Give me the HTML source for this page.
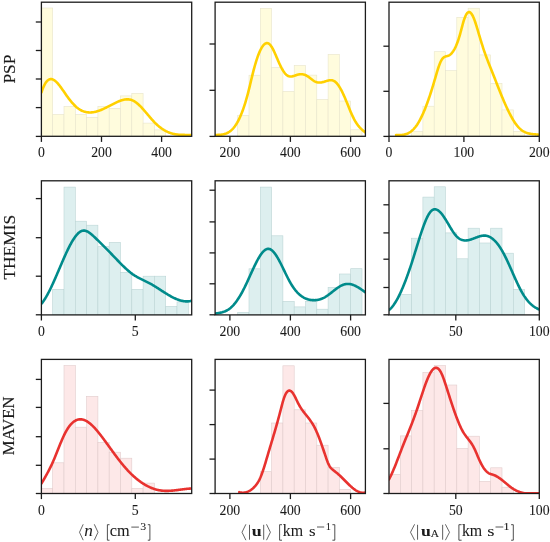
<!DOCTYPE html><html><head><meta charset="utf-8"><style>html,body{margin:0;padding:0;background:#fff;width:550px;height:542px;overflow:hidden}svg{display:block}svg{will-change:transform}</style></head><body>
<svg width="550" height="542" viewBox="0 0 550 542">
<rect width="550" height="542" fill="#fff"/>
<defs><clipPath id="cp00"><rect x="41.40" y="2.20" width="150.30" height="134.10"/></clipPath></defs>
<g clip-path="url(#cp00)">
<rect x="41.40" y="8.00" width="11.30" height="128.30" fill="#fffcdd" stroke="#e8e5cc" stroke-width="0.6"/>
<rect x="52.70" y="114.40" width="11.30" height="21.90" fill="#fffcdd" stroke="#e8e5cc" stroke-width="0.6"/>
<rect x="64.00" y="106.40" width="11.30" height="29.90" fill="#fffcdd" stroke="#e8e5cc" stroke-width="0.6"/>
<rect x="75.30" y="114.40" width="11.30" height="21.90" fill="#fffcdd" stroke="#e8e5cc" stroke-width="0.6"/>
<rect x="86.60" y="117.30" width="11.30" height="19.00" fill="#fffcdd" stroke="#e8e5cc" stroke-width="0.6"/>
<rect x="97.90" y="106.40" width="11.30" height="29.90" fill="#fffcdd" stroke="#e8e5cc" stroke-width="0.6"/>
<rect x="109.20" y="108.30" width="11.30" height="28.00" fill="#fffcdd" stroke="#e8e5cc" stroke-width="0.6"/>
<rect x="120.50" y="95.90" width="11.30" height="40.40" fill="#fffcdd" stroke="#e8e5cc" stroke-width="0.6"/>
<rect x="131.80" y="93.30" width="11.30" height="43.00" fill="#fffcdd" stroke="#e8e5cc" stroke-width="0.6"/>
<rect x="143.10" y="123.10" width="11.30" height="13.20" fill="#fffcdd" stroke="#e8e5cc" stroke-width="0.6"/>
<rect x="154.40" y="129.90" width="11.30" height="6.40" fill="#fffcdd" stroke="#e8e5cc" stroke-width="0.6"/>
<path d="M41.50,92.28 L42.00,90.79 L42.50,89.40 L43.00,88.11 L43.50,86.92 L44.00,85.83 L44.50,84.82 L45.00,83.91 L45.50,83.09 L46.00,82.35 L46.50,81.69 L47.00,81.12 L47.50,80.62 L48.00,80.20 L48.50,79.85 L49.00,79.57 L49.50,79.36 L50.00,79.21 L50.50,79.13 L51.00,79.11 L51.50,79.14 L52.00,79.23 L52.50,79.37 L53.00,79.57 L53.50,79.81 L54.00,80.10 L54.50,80.43 L55.00,80.80 L55.50,81.20 L56.00,81.65 L56.50,82.12 L57.00,82.63 L57.50,83.16 L58.00,83.72 L58.50,84.31 L59.00,84.92 L59.50,85.55 L60.00,86.19 L60.50,86.86 L61.00,87.54 L61.50,88.23 L62.00,88.93 L62.50,89.65 L63.00,90.37 L63.50,91.09 L64.00,91.82 L64.50,92.55 L65.00,93.28 L65.50,94.01 L66.00,94.73 L66.50,95.45 L67.00,96.16 L67.50,96.86 L68.00,97.54 L68.50,98.22 L69.00,98.88 L69.50,99.53 L70.00,100.17 L70.50,100.79 L71.00,101.40 L71.50,102.00 L72.00,102.58 L72.50,103.15 L73.00,103.70 L73.50,104.24 L74.00,104.76 L74.50,105.27 L75.00,105.76 L75.50,106.23 L76.00,106.69 L76.50,107.13 L77.00,107.55 L77.50,107.95 L78.00,108.33 L78.50,108.70 L79.00,109.04 L79.50,109.37 L80.00,109.68 L80.50,109.97 L81.00,110.24 L81.50,110.50 L82.00,110.74 L82.50,110.96 L83.00,111.16 L83.50,111.35 L84.00,111.53 L84.50,111.68 L85.00,111.82 L85.50,111.95 L86.00,112.06 L86.50,112.16 L87.00,112.24 L87.50,112.31 L88.00,112.37 L88.50,112.41 L89.00,112.44 L89.50,112.46 L90.00,112.46 L90.50,112.45 L91.00,112.43 L91.50,112.40 L92.00,112.36 L92.50,112.30 L93.00,112.24 L93.50,112.16 L94.00,112.08 L94.50,111.98 L95.00,111.88 L95.50,111.76 L96.00,111.64 L96.50,111.51 L97.00,111.36 L97.50,111.22 L98.00,111.06 L98.50,110.89 L99.00,110.72 L99.50,110.54 L100.00,110.36 L100.50,110.17 L101.00,109.97 L101.50,109.76 L102.00,109.55 L102.50,109.34 L103.00,109.12 L103.50,108.89 L104.00,108.66 L104.50,108.43 L105.00,108.19 L105.50,107.95 L106.00,107.71 L106.50,107.46 L107.00,107.21 L107.50,106.96 L108.00,106.71 L108.50,106.45 L109.00,106.19 L109.50,105.93 L110.00,105.67 L110.50,105.41 L111.00,105.15 L111.50,104.89 L112.00,104.63 L112.50,104.37 L113.00,104.11 L113.50,103.85 L114.00,103.60 L114.50,103.34 L115.00,103.09 L115.50,102.84 L116.00,102.60 L116.50,102.36 L117.00,102.12 L117.50,101.89 L118.00,101.67 L118.50,101.45 L119.00,101.24 L119.50,101.04 L120.00,100.84 L120.50,100.66 L121.00,100.48 L121.50,100.32 L122.00,100.16 L122.50,100.02 L123.00,99.89 L123.50,99.77 L124.00,99.66 L124.50,99.57 L125.00,99.49 L125.50,99.43 L126.00,99.38 L126.50,99.34 L127.00,99.33 L127.50,99.33 L128.00,99.35 L128.50,99.38 L129.00,99.44 L129.50,99.51 L130.00,99.60 L130.50,99.72 L131.00,99.85 L131.50,100.01 L132.00,100.19 L132.50,100.39 L133.00,100.62 L133.50,100.86 L134.00,101.14 L134.50,101.43 L135.00,101.75 L135.50,102.08 L136.00,102.44 L136.50,102.82 L137.00,103.22 L137.50,103.63 L138.00,104.06 L138.50,104.51 L139.00,104.97 L139.50,105.44 L140.00,105.93 L140.50,106.44 L141.00,106.95 L141.50,107.48 L142.00,108.01 L142.50,108.56 L143.00,109.11 L143.50,109.67 L144.00,110.24 L144.50,110.81 L145.00,111.39 L145.50,111.98 L146.00,112.57 L146.50,113.16 L147.00,113.75 L147.50,114.34 L148.00,114.94 L148.50,115.53 L149.00,116.12 L149.50,116.71 L150.00,117.30 L150.50,117.88 L151.00,118.46 L151.50,119.03 L152.00,119.60 L152.50,120.15 L153.00,120.71 L153.50,121.25 L154.00,121.78 L154.50,122.30 L155.00,122.81 L155.50,123.31 L156.00,123.79 L156.50,124.27 L157.00,124.73 L157.50,125.18 L158.00,125.62 L158.50,126.05 L159.00,126.46 L159.50,126.87 L160.00,127.26 L160.50,127.64 L161.00,128.01 L161.50,128.37 L162.00,128.72 L162.50,129.05 L163.00,129.38 L163.50,129.69 L164.00,130.00 L164.50,130.29 L165.00,130.58 L165.50,130.85 L166.00,131.12 L166.50,131.37 L167.00,131.61 L167.50,131.85 L168.00,132.07 L168.50,132.28 L169.00,132.49 L169.50,132.68 L170.00,132.87 L170.50,133.04 L171.00,133.21 L171.50,133.37 L172.00,133.52 L172.50,133.66 L173.00,133.79 L173.50,133.91 L174.00,134.02 L174.50,134.12 L175.00,134.22 L175.50,134.31 L176.00,134.39 L176.50,134.46 L177.00,134.52 L177.50,134.58 L178.00,134.63 L178.50,134.68 L179.00,134.72 L179.50,134.75 L180.00,134.79 L180.50,134.81 L181.00,134.83 L181.50,134.85 L182.00,134.87 L182.50,134.88 L183.00,134.89 L183.50,134.90 L184.00,134.91 L184.50,134.92 L185.00,134.93 L185.50,134.93 L186.00,134.94 L186.50,134.95 L187.00,134.96 L187.50,134.97 L188.00,134.98 L188.50,134.99 L189.00,135.01 L189.50,135.03 L190.00,135.06 L190.50,135.09 L191.00,135.12 L191.50,135.16 L191.60,135.16" fill="none" stroke="#ffd000" stroke-width="2.60" stroke-linecap="round" stroke-linejoin="round"/>
</g>
<rect x="41.40" y="2.20" width="150.30" height="134.10" fill="none" stroke="#1c1c1c" stroke-width="1.30"/>
<line x1="35.80" y1="22.00" x2="41.40" y2="22.00" stroke="#1c1c1c" stroke-width="1.30"/>
<line x1="35.80" y1="50.50" x2="41.40" y2="50.50" stroke="#1c1c1c" stroke-width="1.30"/>
<line x1="35.80" y1="79.00" x2="41.40" y2="79.00" stroke="#1c1c1c" stroke-width="1.30"/>
<line x1="35.80" y1="107.60" x2="41.40" y2="107.60" stroke="#1c1c1c" stroke-width="1.30"/>
<line x1="35.80" y1="136.40" x2="41.40" y2="136.40" stroke="#1c1c1c" stroke-width="1.30"/>
<line x1="41.40" y1="136.30" x2="41.40" y2="141.90" stroke="#1c1c1c" stroke-width="1.30"/>
<text transform="translate(41.40,157.25) scale(0.982,1)" text-anchor="middle" font-family="Liberation Serif" font-size="14.00" fill="#1a1a1a" stroke="#1a1a1a" stroke-width="0.08">0</text>
<line x1="101.50" y1="136.30" x2="101.50" y2="141.90" stroke="#1c1c1c" stroke-width="1.30"/>
<text transform="translate(101.50,157.25) scale(0.982,1)" text-anchor="middle" font-family="Liberation Serif" font-size="14.00" fill="#1a1a1a" stroke="#1a1a1a" stroke-width="0.08">200</text>
<line x1="161.60" y1="136.30" x2="161.60" y2="141.90" stroke="#1c1c1c" stroke-width="1.30"/>
<text transform="translate(161.60,157.25) scale(0.982,1)" text-anchor="middle" font-family="Liberation Serif" font-size="14.00" fill="#1a1a1a" stroke="#1a1a1a" stroke-width="0.08">400</text>
<defs><clipPath id="cp10"><rect x="215.10" y="2.20" width="150.30" height="134.10"/></clipPath></defs>
<g clip-path="url(#cp10)">
<rect x="237.70" y="115.40" width="11.30" height="20.90" fill="#fffcdd" stroke="#e8e5cc" stroke-width="0.6"/>
<rect x="249.00" y="75.20" width="11.30" height="61.10" fill="#fffcdd" stroke="#e8e5cc" stroke-width="0.6"/>
<rect x="260.30" y="8.40" width="11.30" height="127.90" fill="#fffcdd" stroke="#e8e5cc" stroke-width="0.6"/>
<rect x="271.60" y="67.70" width="11.30" height="68.60" fill="#fffcdd" stroke="#e8e5cc" stroke-width="0.6"/>
<rect x="282.90" y="91.40" width="11.30" height="44.90" fill="#fffcdd" stroke="#e8e5cc" stroke-width="0.6"/>
<rect x="294.20" y="65.50" width="11.30" height="70.80" fill="#fffcdd" stroke="#e8e5cc" stroke-width="0.6"/>
<rect x="305.50" y="75.10" width="11.30" height="61.20" fill="#fffcdd" stroke="#e8e5cc" stroke-width="0.6"/>
<rect x="316.80" y="99.40" width="11.30" height="36.90" fill="#fffcdd" stroke="#e8e5cc" stroke-width="0.6"/>
<rect x="328.10" y="54.40" width="11.30" height="81.90" fill="#fffcdd" stroke="#e8e5cc" stroke-width="0.6"/>
<rect x="339.40" y="101.00" width="11.30" height="35.30" fill="#fffcdd" stroke="#e8e5cc" stroke-width="0.6"/>
<rect x="350.70" y="129.80" width="11.30" height="6.50" fill="#fffcdd" stroke="#e8e5cc" stroke-width="0.6"/>
<path d="M215.20,135.01 L215.70,134.99 L216.20,134.97 L216.70,134.96 L217.20,134.94 L217.70,134.92 L218.20,134.90 L218.70,134.88 L219.20,134.85 L219.70,134.82 L220.20,134.78 L220.70,134.73 L221.20,134.68 L221.70,134.61 L222.20,134.54 L222.70,134.45 L223.20,134.36 L223.70,134.24 L224.20,134.12 L224.70,133.98 L225.20,133.82 L225.70,133.65 L226.20,133.46 L226.70,133.25 L227.20,133.01 L227.70,132.76 L228.20,132.49 L228.70,132.19 L229.20,131.87 L229.70,131.52 L230.20,131.15 L230.70,130.75 L231.20,130.32 L231.70,129.87 L232.20,129.38 L232.70,128.86 L233.20,128.31 L233.70,127.73 L234.20,127.11 L234.70,126.46 L235.20,125.77 L235.70,125.05 L236.20,124.29 L236.70,123.49 L237.20,122.65 L237.70,121.76 L238.20,120.84 L238.70,119.87 L239.20,118.86 L239.70,117.81 L240.20,116.71 L240.70,115.56 L241.20,114.37 L241.70,113.12 L242.20,111.83 L242.70,110.50 L243.20,109.11 L243.70,107.67 L244.20,106.19 L244.70,104.65 L245.20,103.06 L245.70,101.42 L246.20,99.72 L246.70,97.97 L247.20,96.17 L247.70,94.31 L248.20,92.40 L248.70,90.43 L249.20,88.41 L249.70,86.35 L250.20,84.27 L250.70,82.16 L251.20,80.06 L251.70,77.97 L252.20,75.90 L252.70,73.86 L253.20,71.88 L253.70,69.95 L254.20,68.07 L254.70,66.26 L255.20,64.51 L255.70,62.82 L256.20,61.19 L256.70,59.63 L257.20,58.13 L257.70,56.69 L258.20,55.32 L258.70,54.02 L259.20,52.79 L259.70,51.62 L260.20,50.53 L260.70,49.51 L261.20,48.56 L261.70,47.68 L262.20,46.88 L262.70,46.15 L263.20,45.50 L263.70,44.92 L264.20,44.42 L264.70,44.00 L265.20,43.67 L265.70,43.41 L266.20,43.23 L266.70,43.14 L267.20,43.13 L267.70,43.20 L268.20,43.36 L268.70,43.61 L269.20,43.94 L269.70,44.37 L270.20,44.88 L270.70,45.48 L271.20,46.17 L271.70,46.94 L272.20,47.78 L272.70,48.69 L273.20,49.65 L273.70,50.67 L274.20,51.73 L274.70,52.82 L275.20,53.95 L275.70,55.10 L276.20,56.26 L276.70,57.43 L277.20,58.61 L277.70,59.77 L278.20,60.93 L278.70,62.06 L279.20,63.17 L279.70,64.26 L280.20,65.31 L280.70,66.33 L281.20,67.31 L281.70,68.26 L282.20,69.16 L282.70,70.03 L283.20,70.84 L283.70,71.61 L284.20,72.33 L284.70,73.00 L285.20,73.61 L285.70,74.16 L286.20,74.65 L286.70,75.08 L287.20,75.45 L287.70,75.75 L288.20,76.00 L288.70,76.19 L289.20,76.34 L289.70,76.44 L290.20,76.49 L290.70,76.51 L291.20,76.49 L291.70,76.44 L292.20,76.36 L292.70,76.26 L293.20,76.13 L293.70,75.99 L294.20,75.84 L294.70,75.67 L295.20,75.50 L295.70,75.33 L296.20,75.15 L296.70,74.99 L297.20,74.83 L297.70,74.68 L298.20,74.54 L298.70,74.43 L299.20,74.34 L299.70,74.27 L300.20,74.22 L300.70,74.19 L301.20,74.19 L301.70,74.21 L302.20,74.26 L302.70,74.32 L303.20,74.42 L303.70,74.53 L304.20,74.67 L304.70,74.84 L305.20,75.03 L305.70,75.24 L306.20,75.48 L306.70,75.75 L307.20,76.04 L307.70,76.35 L308.20,76.69 L308.70,77.04 L309.20,77.40 L309.70,77.78 L310.20,78.16 L310.70,78.54 L311.20,78.93 L311.70,79.31 L312.20,79.68 L312.70,80.05 L313.20,80.40 L313.70,80.73 L314.20,81.04 L314.70,81.33 L315.20,81.59 L315.70,81.83 L316.20,82.03 L316.70,82.19 L317.20,82.32 L317.70,82.43 L318.20,82.50 L318.70,82.55 L319.20,82.57 L319.70,82.57 L320.20,82.54 L320.70,82.50 L321.20,82.43 L321.70,82.35 L322.20,82.25 L322.70,82.14 L323.20,82.02 L323.70,81.88 L324.20,81.74 L324.70,81.59 L325.20,81.43 L325.70,81.28 L326.20,81.12 L326.70,80.96 L327.20,80.81 L327.70,80.67 L328.20,80.54 L328.70,80.42 L329.20,80.33 L329.70,80.25 L330.20,80.21 L330.70,80.19 L331.20,80.20 L331.70,80.24 L332.20,80.32 L332.70,80.45 L333.20,80.62 L333.70,80.83 L334.20,81.09 L334.70,81.41 L335.20,81.78 L335.70,82.21 L336.20,82.69 L336.70,83.21 L337.20,83.79 L337.70,84.41 L338.20,85.08 L338.70,85.80 L339.20,86.56 L339.70,87.36 L340.20,88.20 L340.70,89.07 L341.20,89.99 L341.70,90.94 L342.20,91.93 L342.70,92.95 L343.20,94.01 L343.70,95.09 L344.20,96.20 L344.70,97.34 L345.20,98.51 L345.70,99.70 L346.20,100.90 L346.70,102.12 L347.20,103.34 L347.70,104.58 L348.20,105.81 L348.70,107.04 L349.20,108.27 L349.70,109.49 L350.20,110.69 L350.70,111.88 L351.20,113.05 L351.70,114.19 L352.20,115.30 L352.70,116.38 L353.20,117.42 L353.70,118.43 L354.20,119.39 L354.70,120.30 L355.20,121.18 L355.70,122.00 L356.20,122.79 L356.70,123.55 L357.20,124.26 L357.70,124.94 L358.20,125.59 L358.70,126.21 L359.20,126.80 L359.70,127.36 L360.20,127.90 L360.70,128.42 L361.20,128.91 L361.70,129.38 L362.20,129.84 L362.70,130.28 L363.20,130.71 L363.70,131.12 L364.20,131.53 L364.70,131.92 L365.20,132.31 L365.30,132.39" fill="none" stroke="#ffd000" stroke-width="2.60" stroke-linecap="round" stroke-linejoin="round"/>
</g>
<rect x="215.10" y="2.20" width="150.30" height="134.10" fill="none" stroke="#1c1c1c" stroke-width="1.30"/>
<line x1="209.50" y1="44.00" x2="215.10" y2="44.00" stroke="#1c1c1c" stroke-width="1.30"/>
<line x1="209.50" y1="90.30" x2="215.10" y2="90.30" stroke="#1c1c1c" stroke-width="1.30"/>
<line x1="209.50" y1="136.40" x2="215.10" y2="136.40" stroke="#1c1c1c" stroke-width="1.30"/>
<line x1="229.90" y1="136.30" x2="229.90" y2="141.90" stroke="#1c1c1c" stroke-width="1.30"/>
<text transform="translate(229.90,157.25) scale(0.982,1)" text-anchor="middle" font-family="Liberation Serif" font-size="14.00" fill="#1a1a1a" stroke="#1a1a1a" stroke-width="0.08">200</text>
<line x1="290.40" y1="136.30" x2="290.40" y2="141.90" stroke="#1c1c1c" stroke-width="1.30"/>
<text transform="translate(290.40,157.25) scale(0.982,1)" text-anchor="middle" font-family="Liberation Serif" font-size="14.00" fill="#1a1a1a" stroke="#1a1a1a" stroke-width="0.08">400</text>
<line x1="350.60" y1="136.30" x2="350.60" y2="141.90" stroke="#1c1c1c" stroke-width="1.30"/>
<text transform="translate(350.60,157.25) scale(0.982,1)" text-anchor="middle" font-family="Liberation Serif" font-size="14.00" fill="#1a1a1a" stroke="#1a1a1a" stroke-width="0.08">600</text>
<defs><clipPath id="cp20"><rect x="389.00" y="2.20" width="150.30" height="134.10"/></clipPath></defs>
<g clip-path="url(#cp20)">
<rect x="411.60" y="131.60" width="11.30" height="4.70" fill="#fffcdd" stroke="#e8e5cc" stroke-width="0.6"/>
<rect x="422.90" y="106.20" width="11.30" height="30.10" fill="#fffcdd" stroke="#e8e5cc" stroke-width="0.6"/>
<rect x="434.20" y="51.70" width="11.30" height="84.60" fill="#fffcdd" stroke="#e8e5cc" stroke-width="0.6"/>
<rect x="445.50" y="70.60" width="11.30" height="65.70" fill="#fffcdd" stroke="#e8e5cc" stroke-width="0.6"/>
<rect x="456.80" y="17.30" width="11.30" height="119.00" fill="#fffcdd" stroke="#e8e5cc" stroke-width="0.6"/>
<rect x="468.10" y="8.20" width="11.30" height="128.10" fill="#fffcdd" stroke="#e8e5cc" stroke-width="0.6"/>
<rect x="479.40" y="54.90" width="11.30" height="81.40" fill="#fffcdd" stroke="#e8e5cc" stroke-width="0.6"/>
<rect x="490.70" y="83.30" width="11.30" height="53.00" fill="#fffcdd" stroke="#e8e5cc" stroke-width="0.6"/>
<rect x="502.00" y="109.90" width="11.30" height="26.40" fill="#fffcdd" stroke="#e8e5cc" stroke-width="0.6"/>
<rect x="513.30" y="131.40" width="11.30" height="4.90" fill="#fffcdd" stroke="#e8e5cc" stroke-width="0.6"/>
<path d="M396.10,134.94 L396.60,134.97 L397.10,135.00 L397.60,135.03 L398.10,135.05 L398.60,135.07 L399.10,135.07 L399.60,135.08 L400.10,135.07 L400.60,135.05 L401.10,135.03 L401.60,134.99 L402.10,134.94 L402.60,134.88 L403.10,134.81 L403.60,134.73 L404.10,134.63 L404.60,134.51 L405.10,134.38 L405.60,134.24 L406.10,134.07 L406.60,133.89 L407.10,133.69 L407.60,133.48 L408.10,133.24 L408.60,132.98 L409.10,132.70 L409.60,132.40 L410.10,132.07 L410.60,131.72 L411.10,131.35 L411.60,130.95 L412.10,130.52 L412.60,130.07 L413.10,129.60 L413.60,129.09 L414.10,128.55 L414.60,127.99 L415.10,127.40 L415.60,126.77 L416.10,126.11 L416.60,125.42 L417.10,124.70 L417.60,123.94 L418.10,123.15 L418.60,122.33 L419.10,121.47 L419.60,120.58 L420.10,119.65 L420.60,118.69 L421.10,117.70 L421.60,116.68 L422.10,115.62 L422.60,114.54 L423.10,113.42 L423.60,112.27 L424.10,111.10 L424.60,109.89 L425.10,108.66 L425.60,107.39 L426.10,106.10 L426.60,104.78 L427.10,103.43 L427.60,102.06 L428.10,100.66 L428.60,99.23 L429.10,97.78 L429.60,96.31 L430.10,94.80 L430.60,93.28 L431.10,91.73 L431.60,90.15 L432.10,88.56 L432.60,86.94 L433.10,85.29 L433.60,83.63 L434.10,81.94 L434.60,80.24 L435.10,78.52 L435.60,76.79 L436.10,75.08 L436.60,73.38 L437.10,71.71 L437.60,70.09 L438.10,68.51 L438.60,67.00 L439.10,65.56 L439.60,64.21 L440.10,62.95 L440.60,61.80 L441.10,60.76 L441.60,59.86 L442.10,59.09 L442.60,58.45 L443.10,57.92 L443.60,57.49 L444.10,57.14 L444.60,56.86 L445.10,56.65 L445.60,56.47 L446.10,56.33 L446.60,56.20 L447.10,56.08 L447.60,55.94 L448.10,55.78 L448.60,55.58 L449.10,55.33 L449.60,55.04 L450.10,54.68 L450.60,54.28 L451.10,53.81 L451.60,53.29 L452.10,52.71 L452.60,52.07 L453.10,51.37 L453.60,50.60 L454.10,49.77 L454.60,48.87 L455.10,47.90 L455.60,46.86 L456.10,45.75 L456.60,44.56 L457.10,43.30 L457.60,41.97 L458.10,40.55 L458.60,39.06 L459.10,37.48 L459.60,35.82 L460.10,34.08 L460.60,32.25 L461.10,30.38 L461.60,28.48 L462.10,26.59 L462.60,24.73 L463.10,22.94 L463.60,21.23 L464.10,19.65 L464.60,18.21 L465.10,16.91 L465.60,15.77 L466.10,14.78 L466.60,13.94 L467.10,13.25 L467.60,12.72 L468.10,12.34 L468.60,12.12 L469.10,12.05 L469.60,12.14 L470.10,12.39 L470.60,12.78 L471.10,13.30 L471.60,13.96 L472.10,14.75 L472.60,15.66 L473.10,16.68 L473.60,17.81 L474.10,19.04 L474.60,20.37 L475.10,21.78 L475.60,23.26 L476.10,24.81 L476.60,26.41 L477.10,28.05 L477.60,29.72 L478.10,31.41 L478.60,33.10 L479.10,34.80 L479.60,36.49 L480.10,38.16 L480.60,39.81 L481.10,41.45 L481.60,43.06 L482.10,44.66 L482.60,46.23 L483.10,47.78 L483.60,49.29 L484.10,50.79 L484.60,52.25 L485.10,53.67 L485.60,55.07 L486.10,56.44 L486.60,57.78 L487.10,59.10 L487.60,60.39 L488.10,61.68 L488.60,62.94 L489.10,64.20 L489.60,65.45 L490.10,66.70 L490.60,67.94 L491.10,69.18 L491.60,70.43 L492.10,71.69 L492.60,72.95 L493.10,74.22 L493.60,75.49 L494.10,76.77 L494.60,78.04 L495.10,79.32 L495.60,80.60 L496.10,81.88 L496.60,83.16 L497.10,84.44 L497.60,85.71 L498.10,86.98 L498.60,88.25 L499.10,89.51 L499.60,90.76 L500.10,92.01 L500.60,93.25 L501.10,94.48 L501.60,95.70 L502.10,96.91 L502.60,98.11 L503.10,99.30 L503.60,100.48 L504.10,101.64 L504.60,102.80 L505.10,103.94 L505.60,105.06 L506.10,106.17 L506.60,107.27 L507.10,108.35 L507.60,109.41 L508.10,110.45 L508.60,111.48 L509.10,112.49 L509.60,113.48 L510.10,114.45 L510.60,115.40 L511.10,116.33 L511.60,117.24 L512.10,118.13 L512.60,118.99 L513.10,119.84 L513.60,120.65 L514.10,121.45 L514.60,122.22 L515.10,122.96 L515.60,123.68 L516.10,124.37 L516.60,125.03 L517.10,125.67 L517.60,126.27 L518.10,126.85 L518.60,127.40 L519.10,127.92 L519.60,128.41 L520.10,128.87 L520.60,129.31 L521.10,129.72 L521.60,130.11 L522.10,130.47 L522.60,130.81 L523.10,131.13 L523.60,131.43 L524.10,131.71 L524.60,131.96 L525.10,132.20 L525.60,132.42 L526.10,132.62 L526.60,132.81 L527.10,132.98 L527.60,133.14 L528.10,133.28 L528.60,133.41 L529.10,133.53 L529.60,133.64 L530.10,133.74 L530.60,133.83 L531.10,133.91 L531.60,133.98 L532.10,134.05 L532.60,134.11 L533.10,134.17 L533.60,134.22 L534.10,134.27 L534.60,134.31 L535.10,134.36 L535.60,134.40 L536.10,134.44 L536.60,134.49 L537.10,134.54 L537.60,134.59 L538.10,134.64 L538.60,134.70 L539.10,134.76 L539.30,134.79" fill="none" stroke="#ffd000" stroke-width="2.60" stroke-linecap="round" stroke-linejoin="round"/>
</g>
<rect x="389.00" y="2.20" width="150.30" height="134.10" fill="none" stroke="#1c1c1c" stroke-width="1.30"/>
<line x1="383.40" y1="46.20" x2="389.00" y2="46.20" stroke="#1c1c1c" stroke-width="1.30"/>
<line x1="383.40" y1="91.30" x2="389.00" y2="91.30" stroke="#1c1c1c" stroke-width="1.30"/>
<line x1="383.40" y1="136.40" x2="389.00" y2="136.40" stroke="#1c1c1c" stroke-width="1.30"/>
<line x1="389.00" y1="136.30" x2="389.00" y2="141.90" stroke="#1c1c1c" stroke-width="1.30"/>
<text transform="translate(389.00,157.25) scale(0.982,1)" text-anchor="middle" font-family="Liberation Serif" font-size="14.00" fill="#1a1a1a" stroke="#1a1a1a" stroke-width="0.08">0</text>
<line x1="463.90" y1="136.30" x2="463.90" y2="141.90" stroke="#1c1c1c" stroke-width="1.30"/>
<text transform="translate(463.90,157.25) scale(0.982,1)" text-anchor="middle" font-family="Liberation Serif" font-size="14.00" fill="#1a1a1a" stroke="#1a1a1a" stroke-width="0.08">100</text>
<line x1="539.30" y1="136.30" x2="539.30" y2="141.90" stroke="#1c1c1c" stroke-width="1.30"/>
<text transform="translate(539.30,157.25) scale(0.982,1)" text-anchor="middle" font-family="Liberation Serif" font-size="14.00" fill="#1a1a1a" stroke="#1a1a1a" stroke-width="0.08">200</text>
<text transform="translate(14.54,83.60) rotate(-90)" x="0" y="0" textLength="28.997" lengthAdjust="spacingAndGlyphs" font-family="Liberation Serif" font-size="16.22" fill="#1a1a1a" stroke="#1a1a1a" stroke-width="0.15">PSP</text>
<defs><clipPath id="cp01"><rect x="41.40" y="180.80" width="150.30" height="134.10"/></clipPath></defs>
<g clip-path="url(#cp01)">
<rect x="52.70" y="289.40" width="11.30" height="25.50" fill="#ddefef" stroke="#bcd5d5" stroke-width="0.6"/>
<rect x="64.00" y="187.10" width="11.30" height="127.80" fill="#ddefef" stroke="#bcd5d5" stroke-width="0.6"/>
<rect x="75.30" y="221.20" width="11.30" height="93.70" fill="#ddefef" stroke="#bcd5d5" stroke-width="0.6"/>
<rect x="86.60" y="225.20" width="11.30" height="89.70" fill="#ddefef" stroke="#bcd5d5" stroke-width="0.6"/>
<rect x="97.90" y="246.70" width="11.30" height="68.20" fill="#ddefef" stroke="#bcd5d5" stroke-width="0.6"/>
<rect x="109.20" y="242.40" width="11.30" height="72.50" fill="#ddefef" stroke="#bcd5d5" stroke-width="0.6"/>
<rect x="120.50" y="272.30" width="11.30" height="42.60" fill="#ddefef" stroke="#bcd5d5" stroke-width="0.6"/>
<rect x="131.80" y="289.30" width="11.30" height="25.60" fill="#ddefef" stroke="#bcd5d5" stroke-width="0.6"/>
<rect x="143.10" y="276.20" width="11.30" height="38.70" fill="#ddefef" stroke="#bcd5d5" stroke-width="0.6"/>
<rect x="154.40" y="276.20" width="11.30" height="38.70" fill="#ddefef" stroke="#bcd5d5" stroke-width="0.6"/>
<rect x="165.70" y="306.40" width="11.30" height="8.50" fill="#ddefef" stroke="#bcd5d5" stroke-width="0.6"/>
<rect x="177.00" y="301.90" width="11.30" height="13.00" fill="#ddefef" stroke="#bcd5d5" stroke-width="0.6"/>
<path d="M41.70,303.46 L42.20,302.84 L42.70,302.19 L43.20,301.51 L43.70,300.80 L44.20,300.06 L44.70,299.29 L45.20,298.50 L45.70,297.68 L46.20,296.83 L46.70,295.96 L47.20,295.07 L47.70,294.15 L48.20,293.22 L48.70,292.26 L49.20,291.28 L49.70,290.29 L50.20,289.27 L50.70,288.24 L51.20,287.20 L51.70,286.14 L52.20,285.06 L52.70,283.97 L53.20,282.87 L53.70,281.76 L54.20,280.64 L54.70,279.51 L55.20,278.37 L55.70,277.22 L56.20,276.07 L56.70,274.91 L57.20,273.75 L57.70,272.58 L58.20,271.41 L58.70,270.24 L59.20,269.07 L59.70,267.89 L60.20,266.72 L60.70,265.55 L61.20,264.39 L61.70,263.22 L62.20,262.06 L62.70,260.91 L63.20,259.77 L63.70,258.63 L64.20,257.50 L64.70,256.38 L65.20,255.27 L65.70,254.17 L66.20,253.08 L66.70,252.00 L67.20,250.95 L67.70,249.90 L68.20,248.87 L68.70,247.86 L69.20,246.87 L69.70,245.90 L70.20,244.94 L70.70,244.01 L71.20,243.10 L71.70,242.22 L72.20,241.36 L72.70,240.52 L73.20,239.71 L73.70,238.93 L74.20,238.18 L74.70,237.45 L75.20,236.76 L75.70,236.10 L76.20,235.47 L76.70,234.87 L77.20,234.31 L77.70,233.78 L78.20,233.29 L78.70,232.84 L79.20,232.42 L79.70,232.05 L80.20,231.72 L80.70,231.42 L81.20,231.17 L81.70,230.97 L82.20,230.81 L82.70,230.69 L83.20,230.62 L83.70,230.59 L84.20,230.60 L84.70,230.65 L85.20,230.74 L85.70,230.87 L86.20,231.03 L86.70,231.22 L87.20,231.45 L87.70,231.70 L88.20,231.98 L88.70,232.29 L89.20,232.62 L89.70,232.97 L90.20,233.34 L90.70,233.73 L91.20,234.14 L91.70,234.56 L92.20,234.99 L92.70,235.44 L93.20,235.90 L93.70,236.36 L94.20,236.83 L94.70,237.30 L95.20,237.78 L95.70,238.26 L96.20,238.74 L96.70,239.22 L97.20,239.70 L97.70,240.18 L98.20,240.67 L98.70,241.16 L99.20,241.64 L99.70,242.13 L100.20,242.62 L100.70,243.12 L101.20,243.61 L101.70,244.10 L102.20,244.60 L102.70,245.10 L103.20,245.60 L103.70,246.09 L104.20,246.60 L104.70,247.10 L105.20,247.60 L105.70,248.11 L106.20,248.61 L106.70,249.12 L107.20,249.63 L107.70,250.13 L108.20,250.64 L108.70,251.16 L109.20,251.67 L109.70,252.18 L110.20,252.70 L110.70,253.21 L111.20,253.73 L111.70,254.24 L112.20,254.76 L112.70,255.28 L113.20,255.80 L113.70,256.32 L114.20,256.85 L114.70,257.37 L115.20,257.89 L115.70,258.41 L116.20,258.94 L116.70,259.46 L117.20,259.98 L117.70,260.50 L118.20,261.02 L118.70,261.53 L119.20,262.05 L119.70,262.56 L120.20,263.07 L120.70,263.58 L121.20,264.08 L121.70,264.58 L122.20,265.08 L122.70,265.57 L123.20,266.06 L123.70,266.55 L124.20,267.03 L124.70,267.50 L125.20,267.97 L125.70,268.44 L126.20,268.90 L126.70,269.35 L127.20,269.80 L127.70,270.24 L128.20,270.67 L128.70,271.09 L129.20,271.51 L129.70,271.92 L130.20,272.32 L130.70,272.72 L131.20,273.10 L131.70,273.48 L132.20,273.85 L132.70,274.21 L133.20,274.55 L133.70,274.89 L134.20,275.22 L134.70,275.54 L135.20,275.86 L135.70,276.16 L136.20,276.46 L136.70,276.75 L137.20,277.04 L137.70,277.32 L138.20,277.59 L138.70,277.86 L139.20,278.13 L139.70,278.39 L140.20,278.64 L140.70,278.89 L141.20,279.14 L141.70,279.39 L142.20,279.64 L142.70,279.88 L143.20,280.12 L143.70,280.36 L144.20,280.60 L144.70,280.84 L145.20,281.09 L145.70,281.33 L146.20,281.57 L146.70,281.82 L147.20,282.06 L147.70,282.31 L148.20,282.57 L148.70,282.82 L149.20,283.08 L149.70,283.35 L150.20,283.62 L150.70,283.89 L151.20,284.17 L151.70,284.46 L152.20,284.74 L152.70,285.04 L153.20,285.33 L153.70,285.63 L154.20,285.93 L154.70,286.24 L155.20,286.55 L155.70,286.86 L156.20,287.17 L156.70,287.49 L157.20,287.81 L157.70,288.13 L158.20,288.45 L158.70,288.77 L159.20,289.09 L159.70,289.42 L160.20,289.74 L160.70,290.07 L161.20,290.39 L161.70,290.72 L162.20,291.04 L162.70,291.36 L163.20,291.69 L163.70,292.01 L164.20,292.33 L164.70,292.64 L165.20,292.96 L165.70,293.28 L166.20,293.59 L166.70,293.90 L167.20,294.20 L167.70,294.51 L168.20,294.81 L168.70,295.10 L169.20,295.39 L169.70,295.68 L170.20,295.97 L170.70,296.25 L171.20,296.52 L171.70,296.79 L172.20,297.06 L172.70,297.32 L173.20,297.57 L173.70,297.82 L174.20,298.06 L174.70,298.29 L175.20,298.52 L175.70,298.74 L176.20,298.96 L176.70,299.17 L177.20,299.37 L177.70,299.56 L178.20,299.74 L178.70,299.92 L179.20,300.08 L179.70,300.24 L180.20,300.39 L180.70,300.53 L181.20,300.66 L181.70,300.78 L182.20,300.89 L182.70,300.99 L183.20,301.08 L183.70,301.16 L184.20,301.22 L184.70,301.28 L185.20,301.33 L185.70,301.36 L186.20,301.38 L186.70,301.39 L187.20,301.39 L187.70,301.37 L188.20,301.34 L188.70,301.30 L189.20,301.25 L189.70,301.18 L190.20,301.10 L190.70,301.00 L191.20,300.89 L191.60,300.79" fill="none" stroke="#008b8b" stroke-width="2.60" stroke-linecap="round" stroke-linejoin="round"/>
</g>
<rect x="41.40" y="180.80" width="150.30" height="134.10" fill="none" stroke="#1c1c1c" stroke-width="1.30"/>
<line x1="35.80" y1="198.60" x2="41.40" y2="198.60" stroke="#1c1c1c" stroke-width="1.30"/>
<line x1="35.80" y1="237.70" x2="41.40" y2="237.70" stroke="#1c1c1c" stroke-width="1.30"/>
<line x1="35.80" y1="276.20" x2="41.40" y2="276.20" stroke="#1c1c1c" stroke-width="1.30"/>
<line x1="35.80" y1="314.80" x2="41.40" y2="314.80" stroke="#1c1c1c" stroke-width="1.30"/>
<line x1="41.40" y1="314.90" x2="41.40" y2="320.50" stroke="#1c1c1c" stroke-width="1.30"/>
<text transform="translate(41.40,336.25) scale(0.982,1)" text-anchor="middle" font-family="Liberation Serif" font-size="14.00" fill="#1a1a1a" stroke="#1a1a1a" stroke-width="0.08">0</text>
<line x1="135.30" y1="314.90" x2="135.30" y2="320.50" stroke="#1c1c1c" stroke-width="1.30"/>
<text transform="translate(135.30,336.25) scale(0.982,1)" text-anchor="middle" font-family="Liberation Serif" font-size="14.00" fill="#1a1a1a" stroke="#1a1a1a" stroke-width="0.08">5</text>
<defs><clipPath id="cp11"><rect x="215.10" y="180.80" width="150.30" height="134.10"/></clipPath></defs>
<g clip-path="url(#cp11)">
<rect x="237.70" y="312.30" width="11.30" height="2.60" fill="#ddefef" stroke="#bcd5d5" stroke-width="0.6"/>
<rect x="249.00" y="268.80" width="11.30" height="46.10" fill="#ddefef" stroke="#bcd5d5" stroke-width="0.6"/>
<rect x="260.30" y="187.10" width="11.30" height="127.80" fill="#ddefef" stroke="#bcd5d5" stroke-width="0.6"/>
<rect x="271.60" y="235.80" width="11.30" height="79.10" fill="#ddefef" stroke="#bcd5d5" stroke-width="0.6"/>
<rect x="282.90" y="301.40" width="11.30" height="13.50" fill="#ddefef" stroke="#bcd5d5" stroke-width="0.6"/>
<rect x="294.20" y="306.90" width="11.30" height="8.00" fill="#ddefef" stroke="#bcd5d5" stroke-width="0.6"/>
<rect x="305.50" y="301.40" width="11.30" height="13.50" fill="#ddefef" stroke="#bcd5d5" stroke-width="0.6"/>
<rect x="316.80" y="309.20" width="11.30" height="5.70" fill="#ddefef" stroke="#bcd5d5" stroke-width="0.6"/>
<rect x="328.10" y="287.30" width="11.30" height="27.60" fill="#ddefef" stroke="#bcd5d5" stroke-width="0.6"/>
<rect x="339.40" y="274.00" width="11.30" height="40.90" fill="#ddefef" stroke="#bcd5d5" stroke-width="0.6"/>
<rect x="350.70" y="268.70" width="11.30" height="46.20" fill="#ddefef" stroke="#bcd5d5" stroke-width="0.6"/>
<path d="M215.20,313.60 L215.70,313.52 L216.20,313.44 L216.70,313.36 L217.20,313.27 L217.70,313.19 L218.20,313.11 L218.70,313.02 L219.20,312.93 L219.70,312.83 L220.20,312.73 L220.70,312.62 L221.20,312.51 L221.70,312.39 L222.20,312.26 L222.70,312.11 L223.20,311.96 L223.70,311.80 L224.20,311.62 L224.70,311.43 L225.20,311.23 L225.70,311.01 L226.20,310.77 L226.70,310.52 L227.20,310.25 L227.70,309.96 L228.20,309.65 L228.70,309.32 L229.20,308.96 L229.70,308.59 L230.20,308.19 L230.70,307.77 L231.20,307.33 L231.70,306.86 L232.20,306.37 L232.70,305.86 L233.20,305.33 L233.70,304.78 L234.20,304.20 L234.70,303.60 L235.20,302.98 L235.70,302.34 L236.20,301.68 L236.70,300.99 L237.20,300.29 L237.70,299.56 L238.20,298.81 L238.70,298.04 L239.20,297.25 L239.70,296.44 L240.20,295.61 L240.70,294.76 L241.20,293.88 L241.70,292.99 L242.20,292.08 L242.70,291.14 L243.20,290.19 L243.70,289.22 L244.20,288.23 L244.70,287.22 L245.20,286.19 L245.70,285.14 L246.20,284.09 L246.70,283.02 L247.20,281.94 L247.70,280.85 L248.20,279.76 L248.70,278.66 L249.20,277.55 L249.70,276.45 L250.20,275.34 L250.70,274.23 L251.20,273.13 L251.70,272.03 L252.20,270.94 L252.70,269.85 L253.20,268.77 L253.70,267.71 L254.20,266.65 L254.70,265.61 L255.20,264.59 L255.70,263.58 L256.20,262.59 L256.70,261.62 L257.20,260.67 L257.70,259.75 L258.20,258.85 L258.70,257.98 L259.20,257.14 L259.70,256.32 L260.20,255.54 L260.70,254.79 L261.20,254.08 L261.70,253.41 L262.20,252.77 L262.70,252.18 L263.20,251.62 L263.70,251.11 L264.20,250.65 L264.70,250.24 L265.20,249.87 L265.70,249.55 L266.20,249.29 L266.70,249.08 L267.20,248.93 L267.70,248.84 L268.20,248.80 L268.70,248.83 L269.20,248.92 L269.70,249.06 L270.20,249.26 L270.70,249.52 L271.20,249.83 L271.70,250.19 L272.20,250.61 L272.70,251.07 L273.20,251.57 L273.70,252.12 L274.20,252.72 L274.70,253.35 L275.20,254.02 L275.70,254.73 L276.20,255.48 L276.70,256.26 L277.20,257.07 L277.70,257.92 L278.20,258.79 L278.70,259.68 L279.20,260.60 L279.70,261.55 L280.20,262.51 L280.70,263.49 L281.20,264.48 L281.70,265.49 L282.20,266.50 L282.70,267.53 L283.20,268.56 L283.70,269.60 L284.20,270.64 L284.70,271.68 L285.20,272.71 L285.70,273.74 L286.20,274.77 L286.70,275.79 L287.20,276.79 L287.70,277.78 L288.20,278.76 L288.70,279.72 L289.20,280.66 L289.70,281.57 L290.20,282.47 L290.70,283.33 L291.20,284.18 L291.70,284.99 L292.20,285.78 L292.70,286.54 L293.20,287.28 L293.70,287.99 L294.20,288.67 L294.70,289.34 L295.20,289.98 L295.70,290.59 L296.20,291.18 L296.70,291.75 L297.20,292.30 L297.70,292.82 L298.20,293.33 L298.70,293.81 L299.20,294.27 L299.70,294.71 L300.20,295.13 L300.70,295.53 L301.20,295.91 L301.70,296.27 L302.20,296.61 L302.70,296.94 L303.20,297.24 L303.70,297.53 L304.20,297.80 L304.70,298.06 L305.20,298.30 L305.70,298.52 L306.20,298.72 L306.70,298.92 L307.20,299.09 L307.70,299.25 L308.20,299.40 L308.70,299.53 L309.20,299.65 L309.70,299.76 L310.20,299.85 L310.70,299.93 L311.20,300.00 L311.70,300.06 L312.20,300.10 L312.70,300.14 L313.20,300.16 L313.70,300.17 L314.20,300.18 L314.70,300.17 L315.20,300.14 L315.70,300.11 L316.20,300.06 L316.70,300.01 L317.20,299.94 L317.70,299.86 L318.20,299.76 L318.70,299.65 L319.20,299.53 L319.70,299.40 L320.20,299.25 L320.70,299.09 L321.20,298.92 L321.70,298.73 L322.20,298.53 L322.70,298.31 L323.20,298.08 L323.70,297.84 L324.20,297.58 L324.70,297.31 L325.20,297.02 L325.70,296.71 L326.20,296.40 L326.70,296.07 L327.20,295.73 L327.70,295.38 L328.20,295.03 L328.70,294.66 L329.20,294.29 L329.70,293.91 L330.20,293.52 L330.70,293.14 L331.20,292.74 L331.70,292.35 L332.20,291.96 L332.70,291.56 L333.20,291.17 L333.70,290.77 L334.20,290.38 L334.70,290.00 L335.20,289.61 L335.70,289.23 L336.20,288.86 L336.70,288.50 L337.20,288.14 L337.70,287.79 L338.20,287.45 L338.70,287.12 L339.20,286.81 L339.70,286.50 L340.20,286.21 L340.70,285.93 L341.20,285.67 L341.70,285.42 L342.20,285.20 L342.70,284.98 L343.20,284.79 L343.70,284.62 L344.20,284.47 L344.70,284.33 L345.20,284.22 L345.70,284.13 L346.20,284.05 L346.70,284.00 L347.20,283.96 L347.70,283.94 L348.20,283.94 L348.70,283.97 L349.20,284.01 L349.70,284.06 L350.20,284.14 L350.70,284.24 L351.20,284.35 L351.70,284.48 L352.20,284.62 L352.70,284.78 L353.20,284.96 L353.70,285.15 L354.20,285.35 L354.70,285.57 L355.20,285.80 L355.70,286.04 L356.20,286.29 L356.70,286.56 L357.20,286.83 L357.70,287.12 L358.20,287.41 L358.70,287.72 L359.20,288.03 L359.70,288.35 L360.20,288.68 L360.70,289.01 L361.20,289.35 L361.70,289.70 L362.20,290.05 L362.70,290.40 L363.20,290.76 L363.70,291.13 L364.20,291.49 L364.70,291.86 L365.20,292.23 L365.50,292.45" fill="none" stroke="#008b8b" stroke-width="2.60" stroke-linecap="round" stroke-linejoin="round"/>
</g>
<rect x="215.10" y="180.80" width="150.30" height="134.10" fill="none" stroke="#1c1c1c" stroke-width="1.30"/>
<line x1="209.50" y1="190.20" x2="215.10" y2="190.20" stroke="#1c1c1c" stroke-width="1.30"/>
<line x1="209.50" y1="221.90" x2="215.10" y2="221.90" stroke="#1c1c1c" stroke-width="1.30"/>
<line x1="209.50" y1="252.90" x2="215.10" y2="252.90" stroke="#1c1c1c" stroke-width="1.30"/>
<line x1="209.50" y1="283.80" x2="215.10" y2="283.80" stroke="#1c1c1c" stroke-width="1.30"/>
<line x1="209.50" y1="314.80" x2="215.10" y2="314.80" stroke="#1c1c1c" stroke-width="1.30"/>
<line x1="229.90" y1="314.90" x2="229.90" y2="320.50" stroke="#1c1c1c" stroke-width="1.30"/>
<text transform="translate(229.90,336.25) scale(0.982,1)" text-anchor="middle" font-family="Liberation Serif" font-size="14.00" fill="#1a1a1a" stroke="#1a1a1a" stroke-width="0.08">200</text>
<line x1="290.40" y1="314.90" x2="290.40" y2="320.50" stroke="#1c1c1c" stroke-width="1.30"/>
<text transform="translate(290.40,336.25) scale(0.982,1)" text-anchor="middle" font-family="Liberation Serif" font-size="14.00" fill="#1a1a1a" stroke="#1a1a1a" stroke-width="0.08">400</text>
<line x1="350.60" y1="314.90" x2="350.60" y2="320.50" stroke="#1c1c1c" stroke-width="1.30"/>
<text transform="translate(350.60,336.25) scale(0.982,1)" text-anchor="middle" font-family="Liberation Serif" font-size="14.00" fill="#1a1a1a" stroke="#1a1a1a" stroke-width="0.08">600</text>
<defs><clipPath id="cp21"><rect x="389.00" y="180.80" width="150.30" height="134.10"/></clipPath></defs>
<g clip-path="url(#cp21)">
<rect x="400.30" y="294.30" width="11.30" height="20.60" fill="#ddefef" stroke="#bcd5d5" stroke-width="0.6"/>
<rect x="411.60" y="238.20" width="11.30" height="76.70" fill="#ddefef" stroke="#bcd5d5" stroke-width="0.6"/>
<rect x="422.90" y="197.10" width="11.30" height="117.80" fill="#ddefef" stroke="#bcd5d5" stroke-width="0.6"/>
<rect x="434.20" y="186.80" width="11.30" height="128.10" fill="#ddefef" stroke="#bcd5d5" stroke-width="0.6"/>
<rect x="445.50" y="232.90" width="11.30" height="82.00" fill="#ddefef" stroke="#bcd5d5" stroke-width="0.6"/>
<rect x="456.80" y="258.80" width="11.30" height="56.10" fill="#ddefef" stroke="#bcd5d5" stroke-width="0.6"/>
<rect x="468.10" y="228.20" width="11.30" height="86.70" fill="#ddefef" stroke="#bcd5d5" stroke-width="0.6"/>
<rect x="479.40" y="243.00" width="11.30" height="71.90" fill="#ddefef" stroke="#bcd5d5" stroke-width="0.6"/>
<rect x="490.70" y="228.20" width="11.30" height="86.70" fill="#ddefef" stroke="#bcd5d5" stroke-width="0.6"/>
<rect x="502.00" y="253.20" width="11.30" height="61.70" fill="#ddefef" stroke="#bcd5d5" stroke-width="0.6"/>
<rect x="513.30" y="289.30" width="11.30" height="25.60" fill="#ddefef" stroke="#bcd5d5" stroke-width="0.6"/>
<path d="M389.10,309.92 L389.60,309.51 L390.10,309.06 L390.60,308.58 L391.10,308.07 L391.60,307.52 L392.10,306.94 L392.60,306.33 L393.10,305.68 L393.60,305.01 L394.10,304.30 L394.60,303.56 L395.10,302.79 L395.60,302.00 L396.10,301.17 L396.60,300.31 L397.10,299.43 L397.60,298.51 L398.10,297.57 L398.60,296.60 L399.10,295.61 L399.60,294.59 L400.10,293.54 L400.60,292.47 L401.10,291.37 L401.60,290.25 L402.10,289.10 L402.60,287.93 L403.10,286.73 L403.60,285.52 L404.10,284.28 L404.60,283.02 L405.10,281.74 L405.60,280.43 L406.10,279.11 L406.60,277.76 L407.10,276.40 L407.60,275.01 L408.10,273.61 L408.60,272.19 L409.10,270.75 L409.60,269.29 L410.10,267.82 L410.60,266.33 L411.10,264.82 L411.60,263.30 L412.10,261.76 L412.60,260.21 L413.10,258.64 L413.60,257.06 L414.10,255.46 L414.60,253.86 L415.10,252.24 L415.60,250.62 L416.10,249.00 L416.60,247.37 L417.10,245.75 L417.60,244.13 L418.10,242.52 L418.60,240.91 L419.10,239.32 L419.60,237.74 L420.10,236.18 L420.60,234.64 L421.10,233.11 L421.60,231.61 L422.10,230.14 L422.60,228.70 L423.10,227.29 L423.60,225.91 L424.10,224.56 L424.60,223.26 L425.10,221.99 L425.60,220.77 L426.10,219.60 L426.60,218.47 L427.10,217.40 L427.60,216.38 L428.10,215.42 L428.60,214.52 L429.10,213.69 L429.60,212.93 L430.10,212.25 L430.60,211.64 L431.10,211.10 L431.60,210.64 L432.10,210.25 L432.60,209.93 L433.10,209.68 L433.60,209.49 L434.10,209.36 L434.60,209.30 L435.10,209.30 L435.60,209.35 L436.10,209.46 L436.60,209.62 L437.10,209.84 L437.60,210.10 L438.10,210.41 L438.60,210.77 L439.10,211.17 L439.60,211.61 L440.10,212.10 L440.60,212.62 L441.10,213.18 L441.60,213.77 L442.10,214.39 L442.60,215.05 L443.10,215.73 L443.60,216.44 L444.10,217.18 L444.60,217.93 L445.10,218.71 L445.60,219.51 L446.10,220.32 L446.60,221.14 L447.10,221.98 L447.60,222.83 L448.10,223.68 L448.60,224.53 L449.10,225.38 L449.60,226.23 L450.10,227.08 L450.60,227.91 L451.10,228.74 L451.60,229.55 L452.10,230.35 L452.60,231.12 L453.10,231.88 L453.60,232.61 L454.10,233.31 L454.60,233.99 L455.10,234.63 L455.60,235.23 L456.10,235.80 L456.60,236.33 L457.10,236.83 L457.60,237.29 L458.10,237.71 L458.60,238.10 L459.10,238.46 L459.60,238.79 L460.10,239.08 L460.60,239.35 L461.10,239.58 L461.60,239.79 L462.10,239.96 L462.60,240.11 L463.10,240.23 L463.60,240.32 L464.10,240.40 L464.60,240.44 L465.10,240.47 L465.60,240.47 L466.10,240.46 L466.60,240.42 L467.10,240.37 L467.60,240.30 L468.10,240.21 L468.60,240.11 L469.10,239.99 L469.60,239.87 L470.10,239.73 L470.60,239.58 L471.10,239.42 L471.60,239.25 L472.10,239.08 L472.60,238.90 L473.10,238.71 L473.60,238.53 L474.10,238.33 L474.60,238.14 L475.10,237.95 L475.60,237.75 L476.10,237.56 L476.60,237.37 L477.10,237.19 L477.60,237.01 L478.10,236.83 L478.60,236.67 L479.10,236.51 L479.60,236.36 L480.10,236.22 L480.60,236.09 L481.10,235.97 L481.60,235.87 L482.10,235.78 L482.60,235.71 L483.10,235.65 L483.60,235.61 L484.10,235.60 L484.60,235.60 L485.10,235.62 L485.60,235.66 L486.10,235.73 L486.60,235.82 L487.10,235.94 L487.60,236.08 L488.10,236.24 L488.60,236.43 L489.10,236.65 L489.60,236.88 L490.10,237.15 L490.60,237.43 L491.10,237.74 L491.60,238.08 L492.10,238.44 L492.60,238.82 L493.10,239.23 L493.60,239.66 L494.10,240.12 L494.60,240.60 L495.10,241.10 L495.60,241.63 L496.10,242.19 L496.60,242.77 L497.10,243.37 L497.60,244.00 L498.10,244.65 L498.60,245.33 L499.10,246.03 L499.60,246.75 L500.10,247.50 L500.60,248.28 L501.10,249.08 L501.60,249.90 L502.10,250.75 L502.60,251.63 L503.10,252.53 L503.60,253.45 L504.10,254.40 L504.60,255.36 L505.10,256.35 L505.60,257.36 L506.10,258.38 L506.60,259.43 L507.10,260.48 L507.60,261.55 L508.10,262.63 L508.60,263.73 L509.10,264.83 L509.60,265.94 L510.10,267.06 L510.60,268.19 L511.10,269.32 L511.60,270.45 L512.10,271.58 L512.60,272.72 L513.10,273.85 L513.60,274.98 L514.10,276.11 L514.60,277.23 L515.10,278.35 L515.60,279.46 L516.10,280.56 L516.60,281.65 L517.10,282.73 L517.60,283.79 L518.10,284.84 L518.60,285.88 L519.10,286.90 L519.60,287.90 L520.10,288.88 L520.60,289.84 L521.10,290.78 L521.60,291.69 L522.10,292.58 L522.60,293.44 L523.10,294.28 L523.60,295.08 L524.10,295.87 L524.60,296.62 L525.10,297.35 L525.60,298.06 L526.10,298.74 L526.60,299.40 L527.10,300.03 L527.60,300.65 L528.10,301.23 L528.60,301.80 L529.10,302.34 L529.60,302.87 L530.10,303.37 L530.60,303.85 L531.10,304.32 L531.60,304.76 L532.10,305.18 L532.60,305.59 L533.10,305.98 L533.60,306.35 L534.10,306.70 L534.60,307.04 L535.10,307.36 L535.60,307.67 L536.10,307.96 L536.60,308.23 L537.10,308.49 L537.60,308.74 L538.10,308.97 L538.60,309.20 L539.10,309.41 L539.30,309.49" fill="none" stroke="#008b8b" stroke-width="2.60" stroke-linecap="round" stroke-linejoin="round"/>
</g>
<rect x="389.00" y="180.80" width="150.30" height="134.10" fill="none" stroke="#1c1c1c" stroke-width="1.30"/>
<line x1="383.40" y1="204.80" x2="389.00" y2="204.80" stroke="#1c1c1c" stroke-width="1.30"/>
<line x1="383.40" y1="232.90" x2="389.00" y2="232.90" stroke="#1c1c1c" stroke-width="1.30"/>
<line x1="383.40" y1="259.20" x2="389.00" y2="259.20" stroke="#1c1c1c" stroke-width="1.30"/>
<line x1="383.40" y1="287.50" x2="389.00" y2="287.50" stroke="#1c1c1c" stroke-width="1.30"/>
<line x1="383.40" y1="314.80" x2="389.00" y2="314.80" stroke="#1c1c1c" stroke-width="1.30"/>
<line x1="455.80" y1="314.90" x2="455.80" y2="320.50" stroke="#1c1c1c" stroke-width="1.30"/>
<text transform="translate(455.80,336.25) scale(0.982,1)" text-anchor="middle" font-family="Liberation Serif" font-size="14.00" fill="#1a1a1a" stroke="#1a1a1a" stroke-width="0.08">50</text>
<line x1="539.30" y1="314.90" x2="539.30" y2="320.50" stroke="#1c1c1c" stroke-width="1.30"/>
<text transform="translate(539.30,336.25) scale(0.982,1)" text-anchor="middle" font-family="Liberation Serif" font-size="14.00" fill="#1a1a1a" stroke="#1a1a1a" stroke-width="0.08">100</text>
<text transform="translate(14.54,279.61) rotate(-90)" x="0" y="0" textLength="64.692" lengthAdjust="spacingAndGlyphs" font-family="Liberation Serif" font-size="16.22" fill="#1a1a1a" stroke="#1a1a1a" stroke-width="0.15">THEMIS</text>
<defs><clipPath id="cp02"><rect x="41.40" y="359.40" width="150.30" height="134.10"/></clipPath></defs>
<g clip-path="url(#cp02)">
<rect x="41.40" y="488.60" width="11.30" height="4.90" fill="#fde8e8" stroke="#e2cccc" stroke-width="0.6"/>
<rect x="52.70" y="462.80" width="11.30" height="30.70" fill="#fde8e8" stroke="#e2cccc" stroke-width="0.6"/>
<rect x="64.00" y="365.60" width="11.30" height="127.90" fill="#fde8e8" stroke="#e2cccc" stroke-width="0.6"/>
<rect x="75.30" y="427.20" width="11.30" height="66.30" fill="#fde8e8" stroke="#e2cccc" stroke-width="0.6"/>
<rect x="86.60" y="396.30" width="11.30" height="97.20" fill="#fde8e8" stroke="#e2cccc" stroke-width="0.6"/>
<rect x="97.90" y="442.40" width="11.30" height="51.10" fill="#fde8e8" stroke="#e2cccc" stroke-width="0.6"/>
<rect x="109.20" y="452.20" width="11.30" height="41.30" fill="#fde8e8" stroke="#e2cccc" stroke-width="0.6"/>
<rect x="120.50" y="458.20" width="11.30" height="35.30" fill="#fde8e8" stroke="#e2cccc" stroke-width="0.6"/>
<rect x="131.80" y="488.40" width="11.30" height="5.10" fill="#fde8e8" stroke="#e2cccc" stroke-width="0.6"/>
<rect x="143.10" y="483.10" width="11.30" height="10.40" fill="#fde8e8" stroke="#e2cccc" stroke-width="0.6"/>
<path d="M41.60,483.34 L42.10,482.46 L42.60,481.59 L43.10,480.73 L43.60,479.86 L44.10,478.99 L44.60,478.12 L45.10,477.24 L45.60,476.36 L46.10,475.47 L46.60,474.57 L47.10,473.67 L47.60,472.75 L48.10,471.82 L48.60,470.88 L49.10,469.92 L49.60,468.94 L50.10,467.94 L50.60,466.93 L51.10,465.89 L51.60,464.83 L52.10,463.75 L52.60,462.64 L53.10,461.51 L53.60,460.35 L54.10,459.17 L54.60,457.97 L55.10,456.76 L55.60,455.53 L56.10,454.29 L56.60,453.05 L57.10,451.80 L57.60,450.54 L58.10,449.29 L58.60,448.03 L59.10,446.79 L59.60,445.55 L60.10,444.31 L60.60,443.10 L61.10,441.89 L61.60,440.71 L62.10,439.54 L62.60,438.40 L63.10,437.28 L63.60,436.19 L64.10,435.14 L64.60,434.11 L65.10,433.12 L65.60,432.17 L66.10,431.26 L66.60,430.38 L67.10,429.54 L67.60,428.74 L68.10,427.97 L68.60,427.24 L69.10,426.55 L69.60,425.89 L70.10,425.26 L70.60,424.67 L71.10,424.11 L71.60,423.58 L72.10,423.09 L72.60,422.63 L73.10,422.20 L73.60,421.81 L74.10,421.44 L74.60,421.11 L75.10,420.80 L75.60,420.53 L76.10,420.28 L76.60,420.07 L77.10,419.88 L77.60,419.72 L78.10,419.59 L78.60,419.48 L79.10,419.41 L79.60,419.35 L80.10,419.33 L80.60,419.33 L81.10,419.35 L81.60,419.40 L82.10,419.48 L82.60,419.58 L83.10,419.70 L83.60,419.84 L84.10,420.01 L84.60,420.20 L85.10,420.41 L85.60,420.65 L86.10,420.90 L86.60,421.17 L87.10,421.47 L87.60,421.78 L88.10,422.11 L88.60,422.46 L89.10,422.83 L89.60,423.22 L90.10,423.62 L90.60,424.04 L91.10,424.47 L91.60,424.92 L92.10,425.39 L92.60,425.87 L93.10,426.36 L93.60,426.87 L94.10,427.39 L94.60,427.93 L95.10,428.47 L95.60,429.03 L96.10,429.59 L96.60,430.17 L97.10,430.76 L97.60,431.36 L98.10,431.96 L98.60,432.58 L99.10,433.20 L99.60,433.83 L100.10,434.47 L100.60,435.12 L101.10,435.77 L101.60,436.42 L102.10,437.08 L102.60,437.75 L103.10,438.42 L103.60,439.09 L104.10,439.77 L104.60,440.45 L105.10,441.13 L105.60,441.81 L106.10,442.50 L106.60,443.19 L107.10,443.87 L107.60,444.56 L108.10,445.25 L108.60,445.94 L109.10,446.63 L109.60,447.32 L110.10,448.01 L110.60,448.71 L111.10,449.39 L111.60,450.08 L112.10,450.77 L112.60,451.46 L113.10,452.14 L113.60,452.83 L114.10,453.51 L114.60,454.19 L115.10,454.86 L115.60,455.53 L116.10,456.20 L116.60,456.87 L117.10,457.54 L117.60,458.20 L118.10,458.85 L118.60,459.50 L119.10,460.15 L119.60,460.79 L120.10,461.43 L120.60,462.06 L121.10,462.69 L121.60,463.31 L122.10,463.93 L122.60,464.53 L123.10,465.14 L123.60,465.73 L124.10,466.32 L124.60,466.91 L125.10,467.48 L125.60,468.05 L126.10,468.61 L126.60,469.17 L127.10,469.72 L127.60,470.26 L128.10,470.79 L128.60,471.32 L129.10,471.84 L129.60,472.35 L130.10,472.86 L130.60,473.36 L131.10,473.85 L131.60,474.34 L132.10,474.82 L132.60,475.29 L133.10,475.75 L133.60,476.21 L134.10,476.66 L134.60,477.10 L135.10,477.54 L135.60,477.97 L136.10,478.39 L136.60,478.81 L137.10,479.22 L137.60,479.62 L138.10,480.02 L138.60,480.40 L139.10,480.78 L139.60,481.16 L140.10,481.52 L140.60,481.88 L141.10,482.24 L141.60,482.58 L142.10,482.92 L142.60,483.25 L143.10,483.58 L143.60,483.90 L144.10,484.21 L144.60,484.51 L145.10,484.81 L145.60,485.10 L146.10,485.38 L146.60,485.65 L147.10,485.92 L147.60,486.18 L148.10,486.44 L148.60,486.68 L149.10,486.92 L149.60,487.15 L150.10,487.38 L150.60,487.60 L151.10,487.81 L151.60,488.01 L152.10,488.21 L152.60,488.40 L153.10,488.58 L153.60,488.76 L154.10,488.93 L154.60,489.09 L155.10,489.24 L155.60,489.39 L156.10,489.53 L156.60,489.66 L157.10,489.79 L157.60,489.91 L158.10,490.02 L158.60,490.12 L159.10,490.22 L159.60,490.31 L160.10,490.39 L160.60,490.47 L161.10,490.54 L161.60,490.60 L162.10,490.65 L162.60,490.70 L163.10,490.74 L163.60,490.78 L164.10,490.81 L164.60,490.83 L165.10,490.85 L165.60,490.87 L166.10,490.87 L166.60,490.88 L167.10,490.88 L167.60,490.87 L168.10,490.86 L168.60,490.84 L169.10,490.82 L169.60,490.80 L170.10,490.77 L170.60,490.74 L171.10,490.71 L171.60,490.67 L172.10,490.63 L172.60,490.59 L173.10,490.54 L173.60,490.49 L174.10,490.44 L174.60,490.39 L175.10,490.33 L175.60,490.27 L176.10,490.21 L176.60,490.15 L177.10,490.09 L177.60,490.03 L178.10,489.96 L178.60,489.90 L179.10,489.83 L179.60,489.77 L180.10,489.70 L180.60,489.63 L181.10,489.57 L181.60,489.50 L182.10,489.43 L182.60,489.37 L183.10,489.30 L183.60,489.24 L184.10,489.18 L184.60,489.12 L185.10,489.06 L185.60,489.00 L186.10,488.94 L186.60,488.89 L187.10,488.83 L187.60,488.78 L188.10,488.74 L188.60,488.69 L189.10,488.65 L189.60,488.61 L190.10,488.58 L190.60,488.54 L191.10,488.51 L191.60,488.49" fill="none" stroke="#e8322f" stroke-width="2.60" stroke-linecap="round" stroke-linejoin="round"/>
</g>
<rect x="41.40" y="359.40" width="150.30" height="134.10" fill="none" stroke="#1c1c1c" stroke-width="1.30"/>
<line x1="35.80" y1="379.40" x2="41.40" y2="379.40" stroke="#1c1c1c" stroke-width="1.30"/>
<line x1="35.80" y1="407.40" x2="41.40" y2="407.40" stroke="#1c1c1c" stroke-width="1.30"/>
<line x1="35.80" y1="436.70" x2="41.40" y2="436.70" stroke="#1c1c1c" stroke-width="1.30"/>
<line x1="35.80" y1="465.30" x2="41.40" y2="465.30" stroke="#1c1c1c" stroke-width="1.30"/>
<line x1="35.80" y1="493.50" x2="41.40" y2="493.50" stroke="#1c1c1c" stroke-width="1.30"/>
<line x1="41.40" y1="493.50" x2="41.40" y2="499.10" stroke="#1c1c1c" stroke-width="1.30"/>
<text transform="translate(41.40,515.25) scale(0.982,1)" text-anchor="middle" font-family="Liberation Serif" font-size="14.00" fill="#1a1a1a" stroke="#1a1a1a" stroke-width="0.08">0</text>
<line x1="135.30" y1="493.50" x2="135.30" y2="499.10" stroke="#1c1c1c" stroke-width="1.30"/>
<text transform="translate(135.30,515.25) scale(0.982,1)" text-anchor="middle" font-family="Liberation Serif" font-size="14.00" fill="#1a1a1a" stroke="#1a1a1a" stroke-width="0.08">5</text>
<defs><clipPath id="cp12"><rect x="215.10" y="359.40" width="150.30" height="134.10"/></clipPath></defs>
<g clip-path="url(#cp12)">
<rect x="260.30" y="471.70" width="11.30" height="21.80" fill="#fde8e8" stroke="#e2cccc" stroke-width="0.6"/>
<rect x="271.60" y="423.00" width="11.30" height="70.50" fill="#fde8e8" stroke="#e2cccc" stroke-width="0.6"/>
<rect x="282.90" y="365.80" width="11.30" height="127.70" fill="#fde8e8" stroke="#e2cccc" stroke-width="0.6"/>
<rect x="294.20" y="409.80" width="11.30" height="83.70" fill="#fde8e8" stroke="#e2cccc" stroke-width="0.6"/>
<rect x="305.50" y="423.00" width="11.30" height="70.50" fill="#fde8e8" stroke="#e2cccc" stroke-width="0.6"/>
<rect x="316.80" y="445.20" width="11.30" height="48.30" fill="#fde8e8" stroke="#e2cccc" stroke-width="0.6"/>
<rect x="328.10" y="467.30" width="11.30" height="26.20" fill="#fde8e8" stroke="#e2cccc" stroke-width="0.6"/>
<rect x="339.40" y="489.40" width="11.30" height="4.10" fill="#fde8e8" stroke="#e2cccc" stroke-width="0.6"/>
<path d="M239.30,492.20 L239.80,492.33 L240.30,492.44 L240.80,492.53 L241.30,492.60 L241.80,492.65 L242.30,492.68 L242.80,492.69 L243.30,492.69 L243.80,492.66 L244.30,492.61 L244.80,492.54 L245.30,492.44 L245.80,492.33 L246.30,492.20 L246.80,492.04 L247.30,491.86 L247.80,491.66 L248.30,491.44 L248.80,491.20 L249.30,490.93 L249.80,490.64 L250.30,490.33 L250.80,489.99 L251.30,489.63 L251.80,489.25 L252.30,488.84 L252.80,488.41 L253.30,487.96 L253.80,487.48 L254.30,486.97 L254.80,486.44 L255.30,485.88 L255.80,485.29 L256.30,484.66 L256.80,483.99 L257.30,483.28 L257.80,482.51 L258.30,481.69 L258.80,480.81 L259.30,479.87 L259.80,478.85 L260.30,477.77 L260.80,476.61 L261.30,475.37 L261.80,474.05 L262.30,472.67 L262.80,471.22 L263.30,469.71 L263.80,468.16 L264.30,466.56 L264.80,464.94 L265.30,463.28 L265.80,461.60 L266.30,459.91 L266.80,458.21 L267.30,456.52 L267.80,454.82 L268.30,453.14 L268.80,451.46 L269.30,449.79 L269.80,448.12 L270.30,446.46 L270.80,444.79 L271.30,443.12 L271.80,441.45 L272.30,439.78 L272.80,438.10 L273.30,436.42 L273.80,434.73 L274.30,433.03 L274.80,431.32 L275.30,429.60 L275.80,427.87 L276.30,426.12 L276.80,424.35 L277.30,422.57 L277.80,420.77 L278.30,418.95 L278.80,417.11 L279.30,415.24 L279.80,413.36 L280.30,411.44 L280.80,409.51 L281.30,407.57 L281.80,405.65 L282.30,403.78 L282.80,401.97 L283.30,400.26 L283.80,398.66 L284.30,397.20 L284.80,395.90 L285.30,394.75 L285.80,393.75 L286.30,392.90 L286.80,392.19 L287.30,391.61 L287.80,391.17 L288.30,390.85 L288.80,390.66 L289.30,390.59 L289.80,390.63 L290.30,390.79 L290.80,391.05 L291.30,391.41 L291.80,391.87 L292.30,392.43 L292.80,393.08 L293.30,393.81 L293.80,394.62 L294.30,395.50 L294.80,396.44 L295.30,397.42 L295.80,398.44 L296.30,399.47 L296.80,400.51 L297.30,401.54 L297.80,402.56 L298.30,403.54 L298.80,404.49 L299.30,405.39 L299.80,406.26 L300.30,407.09 L300.80,407.89 L301.30,408.66 L301.80,409.40 L302.30,410.12 L302.80,410.81 L303.30,411.49 L303.80,412.15 L304.30,412.79 L304.80,413.43 L305.30,414.06 L305.80,414.68 L306.30,415.29 L306.80,415.91 L307.30,416.53 L307.80,417.15 L308.30,417.78 L308.80,418.42 L309.30,419.08 L309.80,419.74 L310.30,420.43 L310.80,421.14 L311.30,421.87 L311.80,422.62 L312.30,423.41 L312.80,424.22 L313.30,425.07 L313.80,425.96 L314.30,426.88 L314.80,427.85 L315.30,428.86 L315.80,429.92 L316.30,431.01 L316.80,432.15 L317.30,433.32 L317.80,434.52 L318.30,435.76 L318.80,437.03 L319.30,438.33 L319.80,439.66 L320.30,441.01 L320.80,442.39 L321.30,443.78 L321.80,445.19 L322.30,446.62 L322.80,448.07 L323.30,449.53 L323.80,450.99 L324.30,452.47 L324.80,453.95 L325.30,455.44 L325.80,456.92 L326.30,458.39 L326.80,459.81 L327.30,461.17 L327.80,462.46 L328.30,463.64 L328.80,464.71 L329.30,465.65 L329.80,466.48 L330.30,467.20 L330.80,467.83 L331.30,468.39 L331.80,468.89 L332.30,469.35 L332.80,469.77 L333.30,470.18 L333.80,470.58 L334.30,470.97 L334.80,471.36 L335.30,471.75 L335.80,472.15 L336.30,472.54 L336.80,472.94 L337.30,473.35 L337.80,473.78 L338.30,474.21 L338.80,474.65 L339.30,475.10 L339.80,475.56 L340.30,476.03 L340.80,476.51 L341.30,476.99 L341.80,477.48 L342.30,477.97 L342.80,478.47 L343.30,478.97 L343.80,479.47 L344.30,479.98 L344.80,480.49 L345.30,480.99 L345.80,481.50 L346.30,482.00 L346.80,482.50 L347.30,483.00 L347.80,483.50 L348.30,483.99 L348.80,484.48 L349.30,484.96 L349.80,485.43 L350.30,485.90 L350.80,486.35 L351.30,486.80 L351.80,487.24 L352.30,487.67 L352.80,488.08 L353.30,488.49 L353.80,488.88 L354.30,489.25 L354.80,489.61 L355.30,489.96 L355.80,490.29 L356.30,490.60 L356.80,490.90 L357.30,491.18 L357.80,491.43 L358.30,491.67 L358.80,491.89 L359.30,492.08 L359.80,492.26 L360.30,492.41 L360.80,492.53 L361.30,492.63 L361.80,492.71 L362.30,492.76 L362.80,492.78 L363.30,492.77 L363.80,492.74 L364.30,492.67 L364.80,492.58 L365.00,492.53" fill="none" stroke="#e8322f" stroke-width="2.60" stroke-linecap="round" stroke-linejoin="round"/>
</g>
<rect x="215.10" y="359.40" width="150.30" height="134.10" fill="none" stroke="#1c1c1c" stroke-width="1.30"/>
<line x1="209.50" y1="390.10" x2="215.10" y2="390.10" stroke="#1c1c1c" stroke-width="1.30"/>
<line x1="209.50" y1="424.60" x2="215.10" y2="424.60" stroke="#1c1c1c" stroke-width="1.30"/>
<line x1="209.50" y1="459.10" x2="215.10" y2="459.10" stroke="#1c1c1c" stroke-width="1.30"/>
<line x1="209.50" y1="493.50" x2="215.10" y2="493.50" stroke="#1c1c1c" stroke-width="1.30"/>
<line x1="229.90" y1="493.50" x2="229.90" y2="499.10" stroke="#1c1c1c" stroke-width="1.30"/>
<text transform="translate(229.90,515.25) scale(0.982,1)" text-anchor="middle" font-family="Liberation Serif" font-size="14.00" fill="#1a1a1a" stroke="#1a1a1a" stroke-width="0.08">200</text>
<line x1="290.40" y1="493.50" x2="290.40" y2="499.10" stroke="#1c1c1c" stroke-width="1.30"/>
<text transform="translate(290.40,515.25) scale(0.982,1)" text-anchor="middle" font-family="Liberation Serif" font-size="14.00" fill="#1a1a1a" stroke="#1a1a1a" stroke-width="0.08">400</text>
<line x1="350.60" y1="493.50" x2="350.60" y2="499.10" stroke="#1c1c1c" stroke-width="1.30"/>
<text transform="translate(350.60,515.25) scale(0.982,1)" text-anchor="middle" font-family="Liberation Serif" font-size="14.00" fill="#1a1a1a" stroke="#1a1a1a" stroke-width="0.08">600</text>
<defs><clipPath id="cp22"><rect x="389.00" y="359.40" width="150.30" height="134.10"/></clipPath></defs>
<g clip-path="url(#cp22)">
<rect x="389.00" y="474.30" width="11.30" height="19.20" fill="#fde8e8" stroke="#e2cccc" stroke-width="0.6"/>
<rect x="400.30" y="435.90" width="11.30" height="57.60" fill="#fde8e8" stroke="#e2cccc" stroke-width="0.6"/>
<rect x="411.60" y="410.40" width="11.30" height="83.10" fill="#fde8e8" stroke="#e2cccc" stroke-width="0.6"/>
<rect x="422.90" y="372.40" width="11.30" height="121.10" fill="#fde8e8" stroke="#e2cccc" stroke-width="0.6"/>
<rect x="434.20" y="365.60" width="11.30" height="127.90" fill="#fde8e8" stroke="#e2cccc" stroke-width="0.6"/>
<rect x="445.50" y="385.00" width="11.30" height="108.50" fill="#fde8e8" stroke="#e2cccc" stroke-width="0.6"/>
<rect x="456.80" y="448.40" width="11.30" height="45.10" fill="#fde8e8" stroke="#e2cccc" stroke-width="0.6"/>
<rect x="468.10" y="436.20" width="11.30" height="57.30" fill="#fde8e8" stroke="#e2cccc" stroke-width="0.6"/>
<rect x="479.40" y="481.40" width="11.30" height="12.10" fill="#fde8e8" stroke="#e2cccc" stroke-width="0.6"/>
<rect x="490.70" y="467.80" width="11.30" height="25.70" fill="#fde8e8" stroke="#e2cccc" stroke-width="0.6"/>
<rect x="502.00" y="487.20" width="11.30" height="6.30" fill="#fde8e8" stroke="#e2cccc" stroke-width="0.6"/>
<path d="M389.00,479.48 L389.50,478.52 L390.00,477.53 L390.50,476.51 L391.00,475.46 L391.50,474.38 L392.00,473.27 L392.50,472.14 L393.00,470.98 L393.50,469.80 L394.00,468.60 L394.50,467.39 L395.00,466.15 L395.50,464.91 L396.00,463.65 L396.50,462.37 L397.00,461.09 L397.50,459.80 L398.00,458.50 L398.50,457.20 L399.00,455.90 L399.50,454.59 L400.00,453.29 L400.50,451.98 L401.00,450.68 L401.50,449.39 L402.00,448.10 L402.50,446.83 L403.00,445.56 L403.50,444.30 L404.00,443.05 L404.50,441.81 L405.00,440.57 L405.50,439.33 L406.00,438.10 L406.50,436.87 L407.00,435.65 L407.50,434.42 L408.00,433.19 L408.50,431.96 L409.00,430.72 L409.50,429.48 L410.00,428.23 L410.50,426.98 L411.00,425.72 L411.50,424.44 L412.00,423.16 L412.50,421.87 L413.00,420.56 L413.50,419.24 L414.00,417.90 L414.50,416.55 L415.00,415.17 L415.50,413.79 L416.00,412.38 L416.50,410.94 L417.00,409.49 L417.50,408.02 L418.00,406.52 L418.50,405.02 L419.00,403.50 L419.50,401.97 L420.00,400.43 L420.50,398.90 L421.00,397.36 L421.50,395.83 L422.00,394.31 L422.50,392.80 L423.00,391.30 L423.50,389.82 L424.00,388.36 L424.50,386.92 L425.00,385.51 L425.50,384.13 L426.00,382.79 L426.50,381.48 L427.00,380.21 L427.50,378.99 L428.00,377.81 L428.50,376.68 L429.00,375.60 L429.50,374.58 L430.00,373.62 L430.50,372.73 L431.00,371.90 L431.50,371.13 L432.00,370.45 L432.50,369.83 L433.00,369.30 L433.50,368.84 L434.00,368.46 L434.50,368.17 L435.00,367.96 L435.50,367.83 L436.00,367.79 L436.50,367.84 L437.00,367.97 L437.50,368.20 L438.00,368.52 L438.50,368.94 L439.00,369.45 L439.50,370.06 L440.00,370.76 L440.50,371.57 L441.00,372.48 L441.50,373.49 L442.00,374.59 L442.50,375.78 L443.00,377.05 L443.50,378.39 L444.00,379.79 L444.50,381.24 L445.00,382.73 L445.50,384.25 L446.00,385.80 L446.50,387.36 L447.00,388.92 L447.50,390.48 L448.00,392.05 L448.50,393.61 L449.00,395.17 L449.50,396.73 L450.00,398.28 L450.50,399.82 L451.00,401.35 L451.50,402.88 L452.00,404.39 L452.50,405.89 L453.00,407.37 L453.50,408.84 L454.00,410.29 L454.50,411.72 L455.00,413.14 L455.50,414.53 L456.00,415.89 L456.50,417.23 L457.00,418.55 L457.50,419.83 L458.00,421.09 L458.50,422.32 L459.00,423.52 L459.50,424.68 L460.00,425.80 L460.50,426.89 L461.00,427.95 L461.50,428.96 L462.00,429.93 L462.50,430.86 L463.00,431.75 L463.50,432.59 L464.00,433.39 L464.50,434.15 L465.00,434.88 L465.50,435.58 L466.00,436.25 L466.50,436.91 L467.00,437.55 L467.50,438.18 L468.00,438.81 L468.50,439.44 L469.00,440.08 L469.50,440.73 L470.00,441.39 L470.50,442.07 L471.00,442.77 L471.50,443.51 L472.00,444.28 L472.50,445.09 L473.00,445.94 L473.50,446.84 L474.00,447.80 L474.50,448.81 L475.00,449.89 L475.50,451.00 L476.00,452.16 L476.50,453.33 L477.00,454.52 L477.50,455.72 L478.00,456.90 L478.50,458.07 L479.00,459.20 L479.50,460.30 L480.00,461.37 L480.50,462.39 L481.00,463.38 L481.50,464.32 L482.00,465.23 L482.50,466.09 L483.00,466.91 L483.50,467.69 L484.00,468.43 L484.50,469.12 L485.00,469.77 L485.50,470.38 L486.00,470.94 L486.50,471.45 L487.00,471.91 L487.50,472.33 L488.00,472.70 L488.50,473.02 L489.00,473.30 L489.50,473.55 L490.00,473.77 L490.50,473.96 L491.00,474.14 L491.50,474.30 L492.00,474.46 L492.50,474.61 L493.00,474.76 L493.50,474.93 L494.00,475.10 L494.50,475.30 L495.00,475.51 L495.50,475.74 L496.00,475.99 L496.50,476.26 L497.00,476.54 L497.50,476.84 L498.00,477.15 L498.50,477.47 L499.00,477.81 L499.50,478.16 L500.00,478.52 L500.50,478.89 L501.00,479.26 L501.50,479.65 L502.00,480.04 L502.50,480.44 L503.00,480.85 L503.50,481.25 L504.00,481.67 L504.50,482.08 L505.00,482.50 L505.50,482.92 L506.00,483.34 L506.50,483.76 L507.00,484.17 L507.50,484.59 L508.00,485.00 L508.50,485.41 L509.00,485.81 L509.50,486.21 L510.00,486.60 L510.50,486.98 L511.00,487.35 L511.50,487.72 L512.00,488.07 L512.50,488.41 L513.00,488.74 L513.50,489.06 L514.00,489.37 L514.50,489.66 L515.00,489.94 L515.50,490.21 L516.00,490.47 L516.50,490.71 L517.00,490.95 L517.50,491.17 L518.00,491.38 L518.50,491.58 L519.00,491.77 L519.50,491.95 L520.00,492.12 L520.50,492.28 L521.00,492.43 L521.50,492.57 L522.00,492.70 L522.50,492.82 L523.00,492.93 L523.50,493.04 L524.00,493.14 L524.50,493.20 L525.00,493.20 L525.50,493.20 L526.00,493.20 L526.50,493.20 L527.00,493.20 L527.50,493.20 L528.00,493.20 L528.50,493.20 L529.00,493.20 L529.50,493.20 L530.00,493.20 L530.50,493.20 L531.00,493.20 L531.50,493.20 L532.00,493.20 L532.50,493.20 L533.00,493.20 L533.50,493.20 L534.00,493.20 L534.50,493.20 L535.00,493.20 L535.50,493.20 L536.00,493.20 L536.50,493.20 L537.00,493.20 L537.50,493.20 L538.00,493.20 L538.50,493.20 L539.00,493.20 L539.30,493.20" fill="none" stroke="#e8322f" stroke-width="2.60" stroke-linecap="round" stroke-linejoin="round"/>
</g>
<rect x="389.00" y="359.40" width="150.30" height="134.10" fill="none" stroke="#1c1c1c" stroke-width="1.30"/>
<line x1="383.40" y1="403.40" x2="389.00" y2="403.40" stroke="#1c1c1c" stroke-width="1.30"/>
<line x1="383.40" y1="448.80" x2="389.00" y2="448.80" stroke="#1c1c1c" stroke-width="1.30"/>
<line x1="383.40" y1="493.50" x2="389.00" y2="493.50" stroke="#1c1c1c" stroke-width="1.30"/>
<line x1="455.80" y1="493.50" x2="455.80" y2="499.10" stroke="#1c1c1c" stroke-width="1.30"/>
<text transform="translate(455.80,515.25) scale(0.982,1)" text-anchor="middle" font-family="Liberation Serif" font-size="14.00" fill="#1a1a1a" stroke="#1a1a1a" stroke-width="0.08">50</text>
<line x1="539.30" y1="493.50" x2="539.30" y2="499.10" stroke="#1c1c1c" stroke-width="1.30"/>
<text transform="translate(539.30,515.25) scale(0.982,1)" text-anchor="middle" font-family="Liberation Serif" font-size="14.00" fill="#1a1a1a" stroke="#1a1a1a" stroke-width="0.08">100</text>
<text transform="translate(14.16,455.36) rotate(-90)" x="0" y="0" textLength="58.729" lengthAdjust="spacingAndGlyphs" font-family="Liberation Serif" font-size="15.99" fill="#1a1a1a" stroke="#1a1a1a" stroke-width="0.15">MAVEN</text>
<polyline points="83.20,524.30 79.50,532.25 83.20,540.20" fill="none" stroke="#333" stroke-width="0.75"/>
<polyline points="94.30,524.30 98.00,532.25 94.30,540.20" fill="none" stroke="#333" stroke-width="0.75"/>
<text x="84.28" y="536.25" textLength="8.632" lengthAdjust="spacingAndGlyphs" font-family="Liberation Serif" font-size="16.34" font-style="italic" fill="#1a1a1a" stroke="#1a1a1a" stroke-width="0.05">n</text>
<path d="M109.50,524.70 H107.40 V540.20 H109.50" fill="none" stroke="#222" stroke-width="0.8"/>
<path d="M147.80,524.70 H149.90 V540.20 H147.80" fill="none" stroke="#222" stroke-width="0.8"/>
<text x="109.78" y="536.25" textLength="19.874" lengthAdjust="spacingAndGlyphs" font-family="Liberation Serif" font-size="16.01" fill="#1a1a1a" stroke="#1a1a1a" stroke-width="0.05">cm</text>
<line x1="131.30" y1="527.10" x2="138.90" y2="527.10" stroke="#222" stroke-width="0.75"/>
<text x="140.23" y="530.25" textLength="5.931" lengthAdjust="spacingAndGlyphs" font-family="Liberation Serif" font-size="9.97" fill="#1a1a1a" stroke="#1a1a1a" stroke-width="0.05">3</text>
<polyline points="245.90,524.30 242.00,532.25 245.90,540.20" fill="none" stroke="#333" stroke-width="0.75"/>
<polyline points="266.50,524.30 270.40,532.25 266.50,540.20" fill="none" stroke="#333" stroke-width="0.75"/>
<line x1="249.50" y1="524.80" x2="249.50" y2="539.70" stroke="#333" stroke-width="0.8"/>
<line x1="263.70" y1="524.80" x2="263.70" y2="539.70" stroke="#333" stroke-width="0.8"/>
<text x="251.83" y="536.25" textLength="9.951" lengthAdjust="spacingAndGlyphs" font-family="Liberation Serif" font-size="14.64" font-weight="bold" fill="#1a1a1a" stroke="#1a1a1a" stroke-width="0.05">u</text>
<path d="M282.00,524.70 H279.60 V540.20 H282.00" fill="none" stroke="#222" stroke-width="0.8"/>
<path d="M332.40,524.70 H334.80 V540.20 H332.40" fill="none" stroke="#222" stroke-width="0.8"/>
<text x="282.80" y="536.25" textLength="20.352" lengthAdjust="spacingAndGlyphs" font-family="Liberation Serif" font-size="16.43" fill="#1a1a1a" stroke="#1a1a1a" stroke-width="0.05">km</text>
<text x="309.00" y="536.25" textLength="6.610" lengthAdjust="spacingAndGlyphs" font-family="Liberation Serif" font-size="15.59" fill="#1a1a1a" stroke="#1a1a1a" stroke-width="0.05">s</text>
<line x1="317.00" y1="527.00" x2="324.20" y2="527.00" stroke="#222" stroke-width="0.75"/>
<text x="325.68" y="530.25" textLength="5.255" lengthAdjust="spacingAndGlyphs" font-family="Liberation Serif" font-size="10.45" fill="#1a1a1a" stroke="#1a1a1a" stroke-width="0.05">1</text>
<polyline points="414.60,524.30 410.50,532.25 414.60,540.20" fill="none" stroke="#333" stroke-width="0.75"/>
<polyline points="445.40,524.30 449.50,532.25 445.40,540.20" fill="none" stroke="#333" stroke-width="0.75"/>
<line x1="417.55" y1="524.80" x2="417.55" y2="539.70" stroke="#333" stroke-width="0.8"/>
<line x1="442.65" y1="524.80" x2="442.65" y2="539.70" stroke="#333" stroke-width="0.8"/>
<text x="420.93" y="536.25" textLength="9.843" lengthAdjust="spacingAndGlyphs" font-family="Liberation Serif" font-size="14.64" font-weight="bold" fill="#1a1a1a" stroke="#1a1a1a" stroke-width="0.05">u</text>
<text x="430.79" y="537.25" textLength="8.194" lengthAdjust="spacingAndGlyphs" font-family="Liberation Serif" font-size="9.69" fill="#1a1a1a" stroke="#1a1a1a" stroke-width="0.05">A</text>
<path d="M461.60,524.70 H458.90 V540.20 H461.60" fill="none" stroke="#222" stroke-width="0.8"/>
<path d="M511.10,524.70 H513.30 V540.20 H511.10" fill="none" stroke="#222" stroke-width="0.8"/>
<text x="461.90" y="536.25" textLength="20.352" lengthAdjust="spacingAndGlyphs" font-family="Liberation Serif" font-size="16.43" fill="#1a1a1a" stroke="#1a1a1a" stroke-width="0.05">km</text>
<text x="487.24" y="536.25" textLength="7.234" lengthAdjust="spacingAndGlyphs" font-family="Liberation Serif" font-size="15.59" fill="#1a1a1a" stroke="#1a1a1a" stroke-width="0.05">s</text>
<line x1="495.50" y1="527.00" x2="503.30" y2="527.00" stroke="#222" stroke-width="0.75"/>
<text x="503.28" y="530.25" textLength="6.391" lengthAdjust="spacingAndGlyphs" font-family="Liberation Serif" font-size="10.45" fill="#1a1a1a" stroke="#1a1a1a" stroke-width="0.05">1</text>
</svg></body></html>
